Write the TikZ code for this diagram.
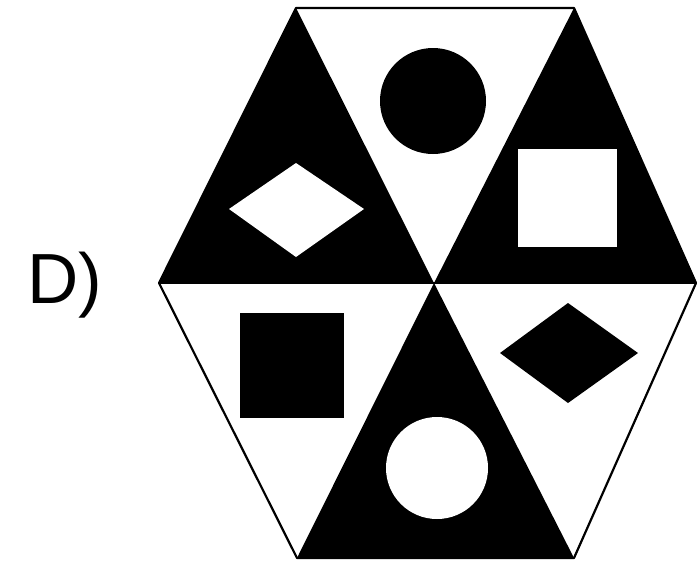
\documentclass[tikz,border=0pt]{standalone}
\usepackage{fontspec}
\setmainfont{Liberation Sans}
\begin{document}
\begin{tikzpicture}[x=1pt,y=-1pt,line join=round]
        \useasboundingbox (0,0) rectangle (697,566);
        % hexagon corners and centre
        \coordinate (TL) at (296,8);
        \coordinate (TR) at (574,8);
        \coordinate (R) at (696,283);
        \coordinate (BR) at (574,558);
        \coordinate (BL) at (297,558);
        \coordinate (L) at (159,283);
        \coordinate (O) at (434,283);
        % black triangles
        \fill (L)--(TL)--(O)--cycle;
        \fill (TR)--(R)--(O)--cycle;
        \fill (BL)--(BR)--(O)--cycle;
        % outline
        \draw[line width=2.2pt] (TL)--(TR)--(R)--(BR)--(BL)--(L)--cycle;
        \draw[line width=2.2pt] (L)--(R);
        % top: black circle
        \fill (433,101) circle (53);
        % upper left: white diamond
        \fill[white] (229,209)--(296,163)--(364,209)--(296,257)--cycle;
        % upper right: white square
        \fill[white] (518,149) rectangle (617,247);
        % lower left: black square
        \fill (240,313) rectangle (344,418);
        % lower right: black diamond
        \fill (500,353)--(568,303)--(638,353)--(568,403)--cycle;
        % bottom: white circle
        \fill[white] (437,468) circle (51);
        \node[font=\fontsize{71}{71}\selectfont] (lbl) at (65,285) {D)};
    \end{tikzpicture}
\end{document}
